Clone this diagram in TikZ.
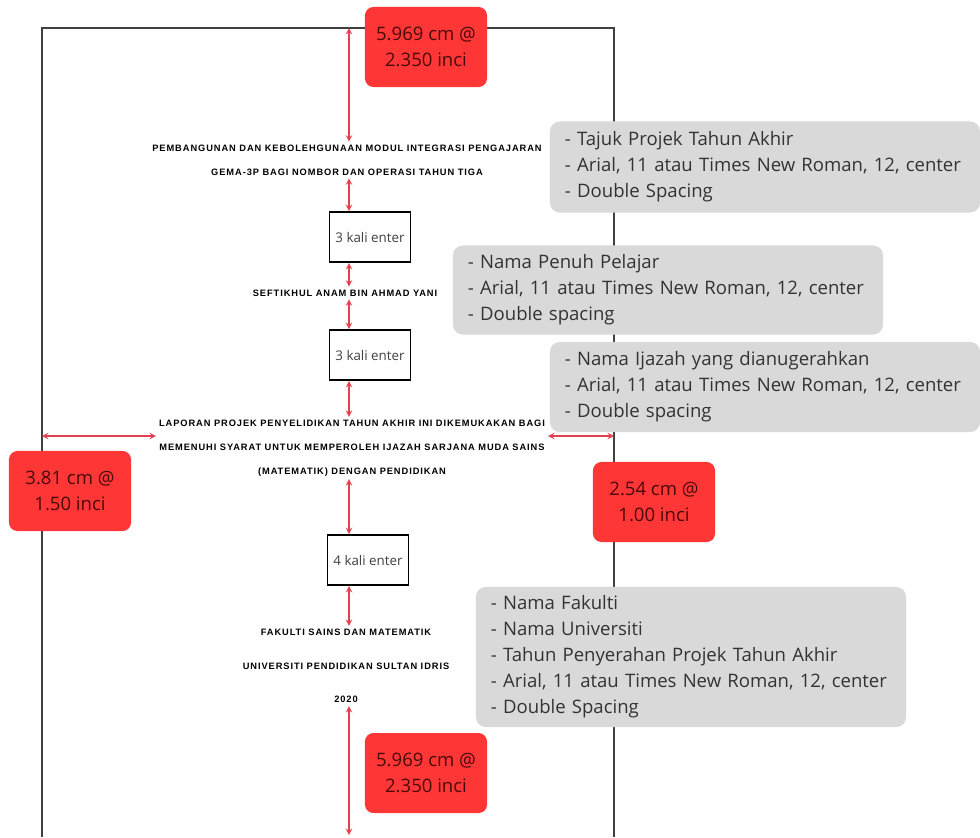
\documentclass[tikz,border=0pt]{standalone}
\usepackage{fontspec}
\setmainfont{Open Sans}
\newfontfamily\pagefont[LetterSpace=10]{Liberation Sans}
\usepackage{xcolor}
\usepackage{tikz}
\usetikzlibrary{shapes,arrows,positioning}

\definecolor{tagred}{HTML}{FF3636}
\definecolor{tagtext}{HTML}{4A0A0A}
\definecolor{notegray}{HTML}{D9D9D9}
\definecolor{gapred}{HTML}{E2404E}
\definecolor{pagegray}{HTML}{404040}

\begin{document}
\begin{tikzpicture}[
    x=0.025cm, y=-0.025cm,
    pageline/.style={draw=pagegray, line width=1.6pt},
    pagetext/.style={font=\pagefont\bfseries\fontsize{6.6}{17}\selectfont, align=center, inner sep=2pt},
    enterbox/.style={rectangle, draw, line width=1.4pt, fill=white, text=black!75, minimum width=2.025cm, minimum height=1.25cm, font=\fontsize{9.5}{12}\selectfont},
    redtag/.style={rectangle, rounded corners=6pt, fill=tagred, text=tagtext, minimum width=3.05cm, minimum height=2cm, align=center, font=\fontsize{13.2}{18}\selectfont},
    note/.style={rectangle, rounded corners=7pt, fill=notegray, text=black!80, text width=10cm, inner xsep=0.375cm, align=left, font=\fontsize{13.2}{18.5}\selectfont},
    gap/.style={gapred, line width=1pt, <->, >=stealth}
]
    \useasboundingbox (0,0) rectangle (980,837);

    % Page frame
    \draw [pageline] (42,837) -- (42,28) -- (614,28) -- (614,837);
    \coordinate (axis) at (349,0);
    \coordinate (ptop) at (349,28);
    \coordinate (pbot) at (349,835);
    \coordinate (pleft) at (42,436);
    \coordinate (pright) at (614,436);

    % Page contents
    \node [pagetext] (title) at (347,160) {PEMBANGUNAN DAN KEBOLEHGUNAAN MODUL INTEGRASI PENGAJARAN\\GEMA-3P BAGI NOMBOR DAN OPERASI TAHUN TIGA};
    \node [enterbox] (enter1) at (370,237) {3 kali enter};
    \node [pagetext] (student) at (345,293) {SEFTIKHUL ANAM BIN AHMAD YANI};
    \node [enterbox] (enter2) at (370,355) {3 kali enter};
    \node [pagetext] (degree) at (352,448) {LAPORAN PROJEK PENYELIDIKAN TAHUN AKHIR INI DIKEMUKAKAN BAGI\\MEMENUHI SYARAT UNTUK MEMPEROLEH IJAZAH SARJANA MUDA SAINS\\(MATEMATIK) DENGAN PENDIDIKAN};
    \node [enterbox] (enter3) at (368,560) {4 kali enter};
    \node [pagetext, font=\pagefont\bfseries\fontsize{6.6}{24}\selectfont] (faculty) at (346,666) {FAKULTI SAINS DAN MATEMATIK\\UNIVERSITI PENDIDIKAN SULTAN IDRIS\\2020};

    % Spacing arrows
    \draw [gap] (ptop) -- (title.north -| axis);
    \draw [gap] (title.south -| axis) -- (enter1.north -| axis);
    \draw [gap] (enter1.south -| axis) -- (student.north -| axis);
    \draw [gap] (student.south -| axis) -- (enter2.north -| axis);
    \draw [gap] (enter2.south -| axis) -- (degree.north -| axis);
    \draw [gap] (degree.south -| axis) -- (enter3.north -| axis);
    \draw [gap] (enter3.south -| axis) -- (faculty.north -| axis);
    \draw [gap] (faculty.south -| axis) -- (pbot);
    \draw [gap] (pleft) -- (pleft -| degree.west);
    \draw [gap] (pleft -| degree.east) -- (pright);

    % Margin tags
    \node [redtag] (topmargin) at (426,47) {5.969 cm @\\2.350 inci};
    \node [redtag] (leftmargin) at (70,491) {3.81 cm @\\1.50 inci};
    \node [redtag] (rightmargin) at (654,502) {2.54 cm @\\1.00 inci};
    \node [redtag] (botmargin) at (426,773) {5.969 cm @\\2.350 inci};

    % Notes
    \node [note, minimum height=2.275cm] (titlenote) at (765,167) {- Tajuk Projek Tahun Akhir\\- Arial, 11 atau Times New Roman, 12, center\\- Double Spacing};
    \node [note, minimum height=2.225cm] (namenote) at (668,290) {- Nama Penuh Pelajar\\- Arial, 11 atau Times New Roman, 12, center\\- Double spacing};
    \node [note, minimum height=2.25cm] (degreenote) at (765,387) {- Nama Ijazah yang dianugerahkan\\- Arial, 11 atau Times New Roman, 12, center\\- Double spacing};
    \node [note, minimum height=3.5cm] (facultynote) at (691,657) {- Nama Fakulti\\- Nama Universiti\\- Tahun Penyerahan Projek Tahun Akhir\\- Arial, 11 atau Times New Roman, 12, center\\- Double Spacing};
\end{tikzpicture}
\end{document}
